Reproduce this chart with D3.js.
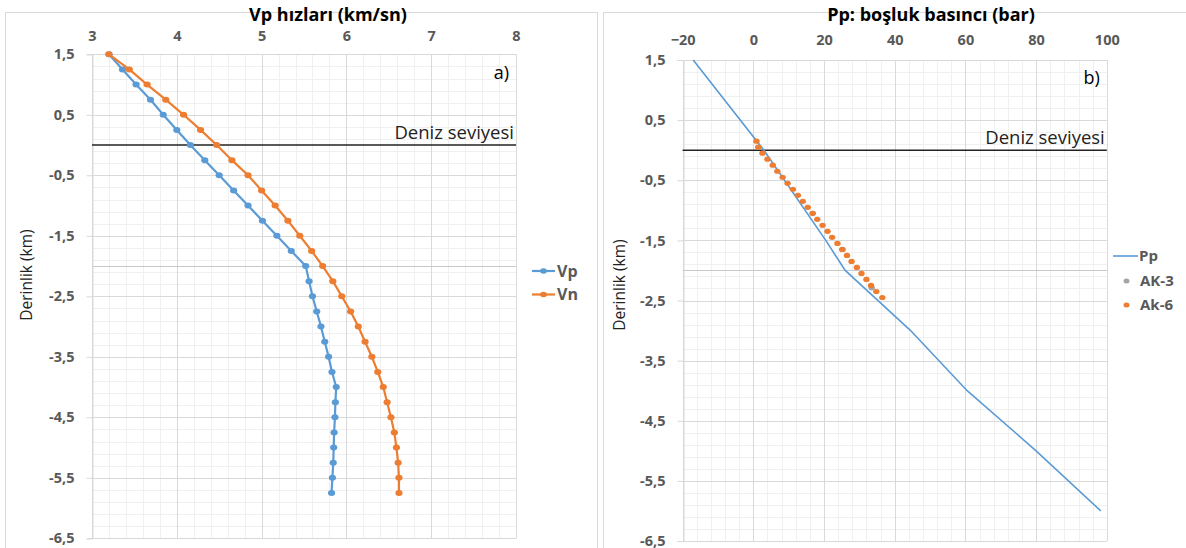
<!DOCTYPE html>
<html lang="tr">
<head>
  <meta charset="UTF-8">
  <title>Vp hızları ve boşluk basıncı</title>
  <script src="https://d3js.org/d3.v7.min.js"></script>
  <style>
    body {
      margin: 0;
      background: #fff;
      font-family: "Open Sans", Arial, sans-serif;
    }
  </style>
</head>
<body>
  <svg id="chart" width="1186" height="548"></svg>

  <script>
    // --- panel a) velocities, every 0.25 km
    const depthA = [1.5, 1.25, 1.0, 0.75, 0.5, 0.25, 0, -0.25, -0.5, -0.75, -1.0, -1.25, -1.5, -1.75,
      -2.0, -2.25, -2.5, -2.75, -3.0, -3.25, -3.5, -3.75, -4.0, -4.25, -4.5, -4.75, -5.0, -5.25, -5.5, -5.75];
    const vp = [3.20, 3.36, 3.52, 3.69, 3.84, 4.00, 4.16, 4.33, 4.50, 4.67, 4.84, 5.01, 5.18, 5.35,
      5.52, 5.56, 5.60, 5.65, 5.70, 5.745, 5.79, 5.83, 5.88, 5.87, 5.865, 5.855, 5.85, 5.845, 5.835, 5.825];
    const vn = [3.20, 3.44, 3.65, 3.87, 4.08, 4.28, 4.47, 4.65, 4.84, 5.00, 5.16, 5.31, 5.45, 5.59,
      5.72, 5.84, 5.945, 6.05, 6.14, 6.22, 6.30, 6.37, 6.435, 6.48, 6.525, 6.565, 6.59, 6.61, 6.62, 6.62];

    // --- panel b) pore pressure
    const ppDepth = [1.5, 0, -1.5, -2.0, -3.0, -4.0, -5.0, -6.0];
    const ppValue = [-17, 3, 20.5, 26, 44.5, 60.5, 80, 98.3];
    const ak6Depth = [0.15, 0.05, -0.05, -0.15, -0.25, -0.35, -0.45, -0.55, -0.65, -0.75, -0.85, -0.95, -1.05,
      -1.15, -1.25, -1.35, -1.45, -1.55, -1.65, -1.75, -1.85, -1.95, -2.05, -2.15, -2.25, -2.35, -2.45];
    const ak6Value = [0.9, 1.4, 2.6, 4.0, 5.5, 6.8, 8.3, 9.7, 11.2, 12.6, 14.0, 15.4, 16.8,
      18.1, 19.6, 21.0, 22.3, 23.8, 25.2, 26.5, 27.8, 29.3, 30.6, 32.0, 33.3, 34.8, 36.5];
    const ak3Depth = [-1.05, -1.65, -2.29];
    const ak3Value = [16.8, 25.2, 33.5];

    // --- ticks
    const yTicks = [1.5, 0.5, -0.5, -1.5, -2.5, -3.5, -4.5, -5.5, -6.5];
    const xTicksA = [3, 4, 5, 6, 7, 8];
    const xTicksB = [-20, 0, 20, 40, 60, 80, 100];

    const blue = "#5b9bd5", orange = "#ed7d31", grey = "#a5a5a5", txt = "#595959";
    const svg = d3.select("#chart");
    const fmt = d => String(d).replace(".", ",");

    function drawPanel(p) {
      const g = svg.append("g");

      // outer chart box
      g.append("rect")
        .attr("x", p.box[0] + 0.5).attr("y", p.box[1] + 0.5)
        .attr("width", p.box[2]).attr("height", p.box[3])
        .attr("fill", "#fff").attr("stroke", "#d9d9d9");

      const x = d3.scaleLinear().domain(p.xDomain).range([p.left, p.right]);
      const y = d3.scaleLinear().domain([1.5, -6.5]).range([p.top, p.bottom]);

      // minor grid
      const xMinor = d3.range(p.xDomain[0], p.xDomain[1] + 1e-9, p.xMinor);
      const yMinor = d3.range(1.5, -6.5 - 1e-9, -0.2);
      g.append("g").selectAll("line").data(xMinor).join("line")
        .attr("x1", d => Math.round(x(d)) + 0.5).attr("x2", d => Math.round(x(d)) + 0.5)
        .attr("y1", p.top).attr("y2", p.bottom)
        .attr("stroke", "#f0f0f0");
      g.append("g").selectAll("line").data(yMinor).join("line")
        .attr("y1", d => Math.round(y(d)) + 0.5).attr("y2", d => Math.round(y(d)) + 0.5)
        .attr("x1", p.left).attr("x2", p.right)
        .attr("stroke", "#f0f0f0");

      // major grid
      g.append("g").selectAll("line").data(p.xTicks).join("line")
        .attr("x1", d => Math.round(x(d)) + 0.5).attr("x2", d => Math.round(x(d)) + 0.5)
        .attr("y1", p.top).attr("y2", p.bottom)
        .attr("stroke", "#d9d9d9");
      g.append("g").selectAll("line").data(yTicks.concat([-2])).join("line")
        .attr("y1", d => Math.round(y(d)) + 0.5).attr("y2", d => Math.round(y(d)) + 0.5)
        .attr("x1", p.left).attr("x2", p.right)
        .attr("stroke", d => d === -2 ? "#c8c8c8" : "#d9d9d9");

      // left axis with outside ticks
      const yAxis = g.append("g")
        .attr("transform", `translate(${Math.round(p.left) + 0.5},0)`)
        .call(d3.axisLeft(y).tickValues(yTicks).tickFormat(fmt).tickSize(6).tickPadding(12));
      yAxis.select(".domain").attr("stroke", "#d9d9d9");
      yAxis.selectAll(".tick line").attr("stroke", "#d9d9d9");
      yAxis.selectAll("text")
        .attr("fill", txt).style("font-size", "14.5px").style("font-weight", 700)
        .style("font-family", "'Open Sans', Arial, sans-serif");

      // top axis labels (no line)
      const xAxis = g.append("g")
        .attr("transform", `translate(0,${p.xLabelY})`)
        .call(d3.axisTop(x).tickValues(p.xTicks).tickFormat(d3.format("d")).tickSize(0).tickPadding(0));
      xAxis.select(".domain").remove();
      xAxis.selectAll("text")
        .attr("fill", txt).attr("dy", "0.35em").style("font-size", "14.5px").style("font-weight", 700)
        .style("font-family", "'Open Sans', Arial, sans-serif");

      // title
      g.append("text")
        .attr("x", p.titleX).attr("y", 15).attr("dy", "0.35em")
        .attr("text-anchor", "middle")
        .attr("fill", "#000").style("font-size", "18px").style("font-weight", 700)
        .text(p.title);

      // y title
      g.append("text")
        .attr("transform", `translate(${p.yTitleX},${p.yTitleY}) rotate(-90)`)
        .attr("text-anchor", "middle").attr("dy", "0.35em")
        .attr("fill", "#222").style("font-size", "15.5px")
        .text("Derinlik (km)");

      // sea level
      g.append("line")
        .attr("x1", p.left).attr("x2", p.right)
        .attr("y1", y(0)).attr("y2", y(0))
        .attr("stroke", "#222").attr("stroke-width", 1.5);
      g.append("text")
        .attr("x", p.right - 2).attr("y", y(0) - 6)
        .attr("text-anchor", "end").attr("fill", "#222").style("font-size", "18.5px")
        .text("Deniz seviyesi");

      // panel letter
      g.append("text")
        .attr("x", p.right - 7).attr("y", y(1.2)).attr("dy", "0.35em")
        .attr("text-anchor", "end").attr("fill", "#000").style("font-size", "18px")
        .text(p.letter);

      return { g, x, y };
    }

    // ---------- panel a
    const A = drawPanel({
      box: [5, 12, 592, 560],
      left: 92, right: 516, top: 54.3, bottom: 538.3,
      xDomain: [3, 8], xTicks: xTicksA, xMinor: 0.2, xLabelY: 36,
      title: "Vp hızları (km/sn)", titleX: 328,
      yTitleX: 27, yTitleY: 275, letter: "a)"
    });

    const lineA = (vals) => d3.line()
      .x((d, i) => A.x(vals[i]))
      .y(d => A.y(d))(depthA);

    [[vp, blue], [vn, orange]].forEach(([vals, col]) => {
      A.g.append("path")
        .attr("d", lineA(vals))
        .attr("fill", "none").attr("stroke", col).attr("stroke-width", 2.2);
      A.g.append("g").selectAll("ellipse").data(depthA).join("ellipse")
        .attr("cx", (d, i) => A.x(vals[i])).attr("cy", d => A.y(d))
        .attr("rx", 3.6).attr("ry", 3)
        .attr("fill", col);
    });

    // legend a
    const legA = A.g.append("g");
    [["Vp", blue], ["Vn", orange]].forEach(([name, col], i) => {
      const yy = 271 + i * 23.5;
      legA.append("line").attr("x1", 532).attr("x2", 555).attr("y1", yy).attr("y2", yy)
        .attr("stroke", col).attr("stroke-width", 2.2);
      legA.append("ellipse").attr("cx", 543.5).attr("cy", yy).attr("rx", 3.4).attr("ry", 2.8).attr("fill", col);
      legA.append("text").attr("x", 557).attr("y", yy).attr("dy", "0.35em")
        .attr("fill", txt).style("font-size", "16px").style("font-weight", 700).text(name);
    });

    // ---------- panel b
    const B = drawPanel({
      box: [603, 12, 600, 560],
      left: 682.6, right: 1106.8, top: 60, bottom: 541,
      xDomain: [-20, 100], xTicks: xTicksB, xMinor: 4, xLabelY: 40,
      title: "Pp: boşluk basıncı (bar)", titleX: 931,
      yTitleX: 620, yTitleY: 285, letter: "b)"
    });

    B.g.append("path")
      .attr("d", d3.line().x((d, i) => B.x(ppValue[i])).y(d => B.y(d))(ppDepth))
      .attr("fill", "none").attr("stroke", blue).attr("stroke-width", 1.6);

    B.g.append("g").selectAll("ellipse").data(ak3Depth).join("ellipse")
      .attr("cx", (d, i) => B.x(ak3Value[i])).attr("cy", d => B.y(d))
      .attr("rx", 3.2).attr("ry", 2.6).attr("fill", grey);
    B.g.append("g").selectAll("ellipse").data(ak6Depth).join("ellipse")
      .attr("cx", (d, i) => B.x(ak6Value[i])).attr("cy", d => B.y(d))
      .attr("rx", 3.2).attr("ry", 2.6).attr("fill", orange);

    // legend b
    const legB = B.g.append("g");
    legB.append("line").attr("x1", 1113).attr("x2", 1138).attr("y1", 256).attr("y2", 256)
      .attr("stroke", blue).attr("stroke-width", 1.6);
    legB.append("text").attr("x", 1139).attr("y", 256).attr("dy", "0.35em")
      .attr("fill", txt).style("font-size", "15px").style("font-weight", 700).text("Pp");
    [["AK-3", grey], ["Ak-6", orange]].forEach(([name, col], i) => {
      const yy = 281 + i * 24;
      legB.append("ellipse").attr("cx", 1126.5).attr("cy", yy).attr("rx", 3).attr("ry", 2.5).attr("fill", col);
      legB.append("text").attr("x", 1140).attr("y", yy).attr("dy", "0.35em")
        .attr("fill", txt).style("font-size", "15px").style("font-weight", 700).text(name);
    });
  </script>
</body>
</html>
